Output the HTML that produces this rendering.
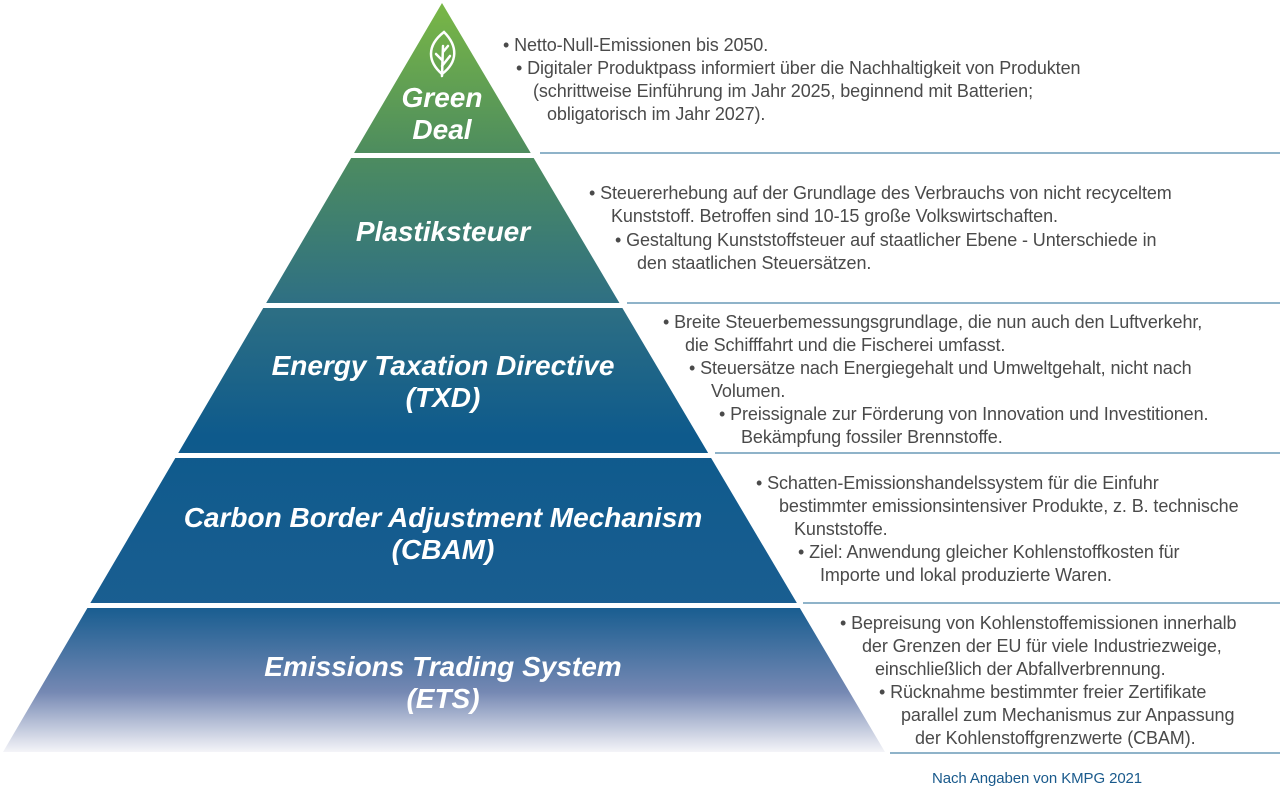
<!DOCTYPE html>
<html><head><meta charset="utf-8"><style>
body{margin:0;width:1280px;height:798px;background:#fff;overflow:hidden;position:relative;font-family:"Liberation Sans",sans-serif}
.t{position:absolute;color:#4a4a4a;font-size:18px;line-height:23.5px;white-space:nowrap;letter-spacing:-0.1px}
.h{position:absolute;color:#fff;font-weight:bold;font-style:italic;font-size:28px;line-height:32px;text-align:center;white-space:nowrap}
.ln{position:absolute;height:1.5px;background:#8fb3c9;right:0}
</style></head><body>
<svg width="1280" height="798" style="position:absolute;left:0;top:0">
<defs><linearGradient id="g" x1="0" y1="0" x2="0" y2="752" gradientUnits="userSpaceOnUse">
<stop offset="0" stop-color="#7ab845"/>
<stop offset="0.2" stop-color="#4e8d5e"/>
<stop offset="0.4" stop-color="#2f7083"/>
<stop offset="0.58" stop-color="#0e5a8c"/>
<stop offset="0.81" stop-color="#1a5e91"/>
<stop offset="0.92" stop-color="#7588b3"/>
<stop offset="1" stop-color="#f4f4f8"/>
</linearGradient></defs>
<polygon points="442,3 885,752 3,752" fill="url(#g)"/>
<rect x="0" y="153" width="900" height="5" fill="#fff"/>
<rect x="0" y="303" width="900" height="5" fill="#fff"/>
<rect x="0" y="453" width="900" height="5" fill="#fff"/>
<rect x="0" y="603" width="900" height="5" fill="#fff"/>
<g fill="none" stroke="#fff" stroke-width="2.5" stroke-linecap="round">
<path d="M442,74 C428,62 426,46 444,32 C458,46 458,62 442,74 Z"/>
<path d="M442,76 L443,46 M442,60 L436,54 M442,66 L450,56 M443,52 L448,46"/>
</g>
</svg>
<div class="h" style="left:342px;top:82px;width:200px">Green<br>Deal</div>
<div class="h" style="left:293px;top:216px;width:300px">Plastiksteuer</div>
<div class="h" style="left:193px;top:350px;width:500px">Energy Taxation Directive<br>(TXD)</div>
<div class="h" style="left:143px;top:502px;width:600px">Carbon Border Adjustment Mechanism<br>(CBAM)</div>
<div class="h" style="left:143px;top:651px;width:600px">Emissions Trading System<br>(ETS)</div>

<div class="t" style="left:503px;top:34px">• Netto-Null-Emissionen bis 2050.</div>
<div class="t" style="left:516px;top:57px">• Digitaler Produktpass informiert über die Nachhaltigkeit von Produkten</div>
<div class="t" style="left:533px;top:80px">(schrittweise Einführung im Jahr 2025, beginnend mit Batterien;</div>
<div class="t" style="left:547px;top:103px">obligatorisch im Jahr 2027).</div>
<div class="ln" style="left:540px;top:152px"></div>

<div class="t" style="left:589px;top:182px">• Steuererhebung auf der Grundlage des Verbrauchs von nicht recyceltem</div>
<div class="t" style="left:611px;top:205px">Kunststoff. Betroffen sind 10-15 große Volkswirtschaften.</div>
<div class="t" style="left:615px;top:229px">• Gestaltung Kunststoffsteuer auf staatlicher Ebene - Unterschiede in</div>
<div class="t" style="left:637px;top:252px">den staatlichen Steuersätzen.</div>
<div class="ln" style="left:627px;top:302px"></div>

<div class="t" style="left:663px;top:311px">• Breite Steuerbemessungsgrundlage, die nun auch den Luftverkehr,</div>
<div class="t" style="left:685px;top:334px">die Schifffahrt und die Fischerei umfasst.</div>
<div class="t" style="left:689px;top:357px">• Steuersätze nach Energiegehalt und Umweltgehalt, nicht nach</div>
<div class="t" style="left:711px;top:380px">Volumen.</div>
<div class="t" style="left:719px;top:403px">• Preissignale zur Förderung von Innovation und Investitionen.</div>
<div class="t" style="left:741px;top:426px">Bekämpfung fossiler Brennstoffe.</div>
<div class="ln" style="left:715px;top:452px"></div>

<div class="t" style="left:756px;top:472px">• Schatten-Emissionshandelssystem für die Einfuhr</div>
<div class="t" style="left:779px;top:495px">bestimmter emissionsintensiver Produkte, z. B. technische</div>
<div class="t" style="left:794px;top:518px">Kunststoffe.</div>
<div class="t" style="left:798px;top:541px">• Ziel: Anwendung gleicher Kohlenstoffkosten für</div>
<div class="t" style="left:820px;top:564px">Importe und lokal produzierte Waren.</div>
<div class="ln" style="left:803px;top:602px"></div>

<div class="t" style="left:840px;top:612px">• Bepreisung von Kohlenstoffemissionen innerhalb</div>
<div class="t" style="left:862px;top:635px">der Grenzen der EU für viele Industriezweige,</div>
<div class="t" style="left:875px;top:658px">einschließlich der Abfallverbrennung.</div>
<div class="t" style="left:879px;top:681px">• Rücknahme bestimmter freier Zertifikate</div>
<div class="t" style="left:901px;top:704px">parallel zum Mechanismus zur Anpassung</div>
<div class="t" style="left:915px;top:727px">der Kohlenstoffgrenzwerte (CBAM).</div>
<div class="ln" style="left:890px;top:752px"></div>

<div class="t" style="left:932px;top:767px;color:#1a5a8c;font-size:15px">Nach Angaben von KMPG 2021</div>
</body></html>
